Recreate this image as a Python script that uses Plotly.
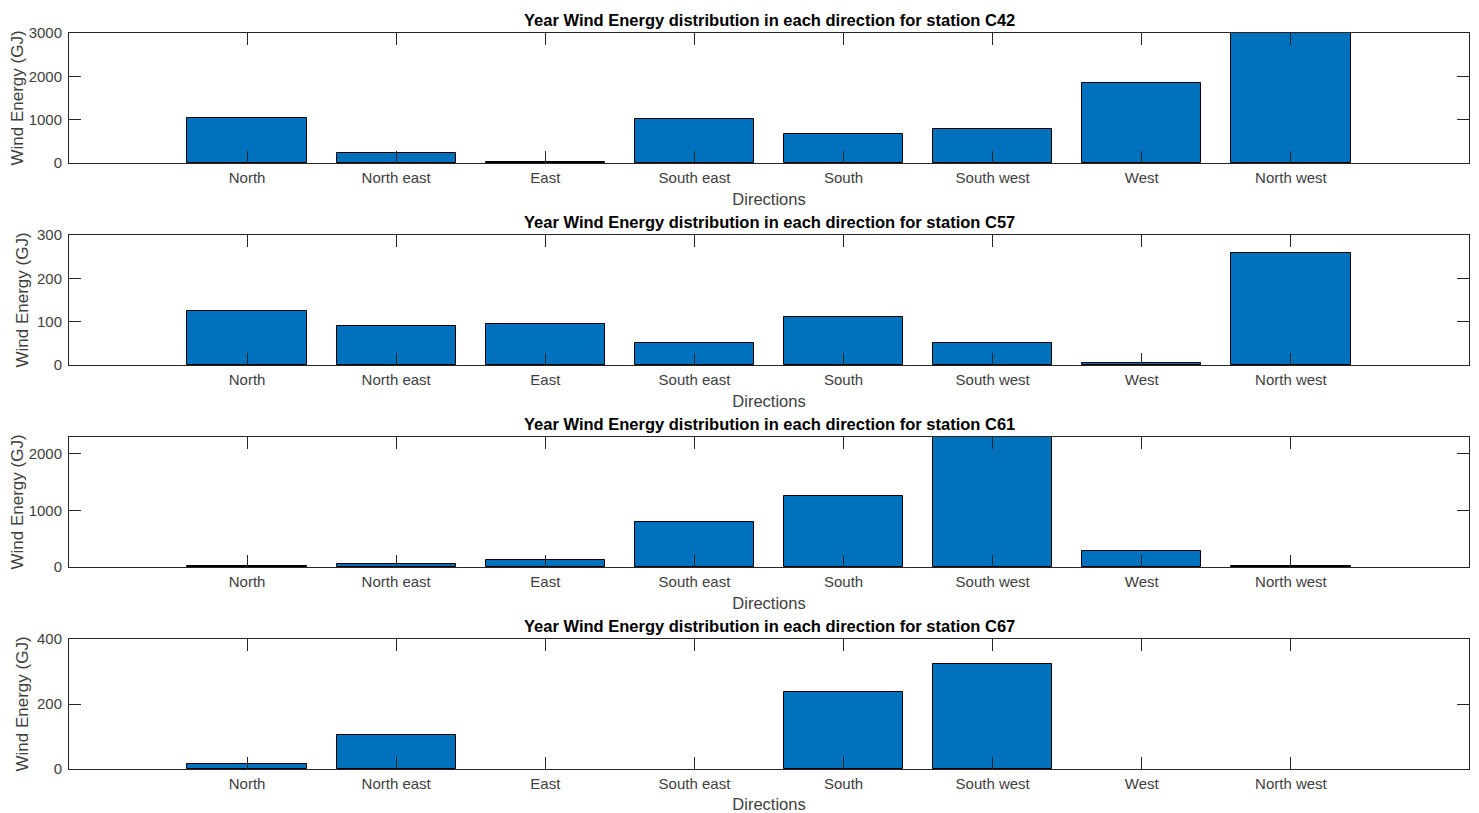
import plotly.graph_objects as go

directions = ["North", "North east", "East", "South east", "South", "South west", "West", "North west"]
stations = ["C42", "C57", "C61", "C67"]
energy_c42 = [1045, 240, 30, 1005, 673, 789, 1846, 3300]
energy_c57 = [125, 89, 95, 51, 111, 51, 5, 258]
energy_c61 = [20, 53, 123, 800, 1265, 2600, 282, 20]
energy_c67 = [16, 105, 0, 0, 237, 323, 0, 0]
series = [energy_c42, energy_c57, energy_c61, energy_c67]
y_max = [3000, 300, 2300, 400]
y_ticks = [[0, 1000, 2000, 3000], [0, 100, 200, 300], [0, 1000, 2000], [0, 200, 400]]

# the page places the figure 8px in from the top-left corner
OFF = 8
W, H = 1479 - OFF, 813 - OFF
left, right = 69 - OFF, 1469 - OFF
tops = [t - OFF for t in (33, 235, 437, 639)]
bottoms = [b - OFF for b in (163, 365, 567, 769)]

x_pos = list(range(1, 9))

fig = go.Figure()
font_family = "Liberation Sans, Arial, sans-serif"
axis_color = "#262626"
tick_text_color = "#404040"

for i, (st, vals) in enumerate(zip(stations, series)):
    n = "" if i == 0 else str(i + 1)
    fig.add_trace(go.Bar(
        x=x_pos, y=vals, width=0.8,
        marker=dict(color="#0072BD",
                    line=dict(color="black", width=[1 if v > 0 else 0 for v in vals])),
        xaxis="x" + n, yaxis="y" + n, showlegend=False,
    ))
    dom_y = [1 - bottoms[i] / H, 1 - tops[i] / H]
    fig.layout["xaxis" + n] = dict(
        domain=[left / W, right / W], anchor="y" + n,
        range=[1 - 1.194, 8 + 1.194],
        tickmode="array", tickvals=x_pos, ticktext=directions,
        ticks="inside", ticklen=12, tickwidth=1, tickcolor=axis_color,
        showline=True, linecolor=axis_color, linewidth=1, mirror="ticks",
        showgrid=False, zeroline=False, automargin=False,
        ticklabelstandoff=1,
        tickfont=dict(size=15, color=tick_text_color, family=font_family),
        title=dict(text="Directions", font=dict(size=16.5, color=tick_text_color, family=font_family), standoff=8),
        fixedrange=True,
    )
    fig.layout["yaxis" + n] = dict(
        domain=dom_y, anchor="x" + n,
        range=[0, y_max[i]],
        tickmode="array", tickvals=y_ticks[i],
        ticks="inside", ticklen=12, tickwidth=1, tickcolor=axis_color,
        showline=True, linecolor=axis_color, linewidth=1, mirror="ticks",
        showgrid=False, zeroline=False, automargin=False,
        ticklabelstandoff=3,
        tickfont=dict(size=15, color=tick_text_color, family=font_family),
        title=dict(text="Wind Energy (GJ)", font=dict(size=17, color=tick_text_color, family=font_family), standoff=4),
        fixedrange=True,
    )
    fig.add_annotation(
        x=(left + right) / 2 / W, y=1 - tops[i] / H, xref="paper", yref="paper",
        xanchor="center", yanchor="bottom", yshift=2, showarrow=False,
        text="<b>Year Wind Energy distribution in each direction for station " + st + "</b>",
        font=dict(size=16.5, color="black", family=font_family),
    )

fig.update_layout(
    width=W, height=H,
    margin=dict(l=0, r=0, t=0, b=0, autoexpand=False),
    paper_bgcolor="white", plot_bgcolor="white",
    bargap=0,
)

fig.write_html("out.html")
